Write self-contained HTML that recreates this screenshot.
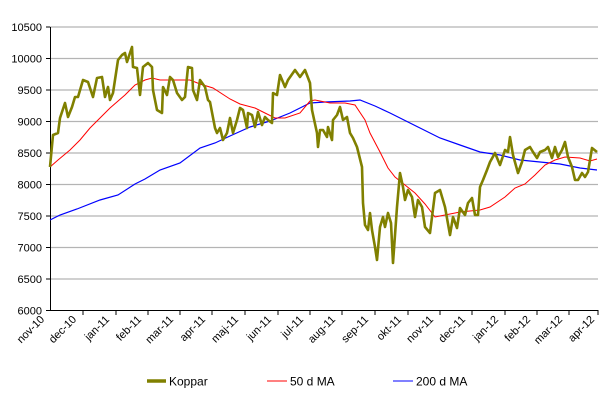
<!DOCTYPE html>
<html><head><meta charset="utf-8"><style>
body{margin:0;background:#fff;}
svg{display:block;font-family:"Liberation Sans",Arial,sans-serif;}
</style></head><body>
<svg width="608" height="409" viewBox="0 0 608 409">
<g stroke="#b4b4b4" stroke-width="1.2">
<line x1="50" y1="27" x2="598" y2="27"/><line x1="50" y1="58.5" x2="598" y2="58.5"/>
<line x1="50" y1="90" x2="598" y2="90"/><line x1="50" y1="121.5" x2="598" y2="121.5"/>
<line x1="50" y1="153" x2="598" y2="153"/><line x1="50" y1="184.5" x2="598" y2="184.5"/>
<line x1="50" y1="216" x2="598" y2="216"/><line x1="50" y1="247.5" x2="598" y2="247.5"/>
<line x1="50" y1="279" x2="598" y2="279"/>
</g>
<g font-size="11" fill="#000" text-anchor="end">
<text x="42" y="31">10500</text><text x="42" y="62.5">10000</text><text x="42" y="94">9500</text>
<text x="42" y="125.5">9000</text><text x="42" y="157">8500</text><text x="42" y="188.5">8000</text>
<text x="42" y="220">7500</text><text x="42" y="251.5">7000</text><text x="42" y="283">6500</text>
<text x="42" y="314.5">6000</text>
</g>
<g stroke="#000" stroke-width="1">
<line x1="50.5" y1="27" x2="50.5" y2="311"/><line x1="46" y1="310.5" x2="598" y2="310.5"/>
<line x1="46" y1="27" x2="50" y2="27"/><line x1="46" y1="58.5" x2="50" y2="58.5"/><line x1="46" y1="90" x2="50" y2="90"/><line x1="46" y1="121.5" x2="50" y2="121.5"/><line x1="46" y1="153" x2="50" y2="153"/><line x1="46" y1="184.5" x2="50" y2="184.5"/><line x1="46" y1="216" x2="50" y2="216"/><line x1="46" y1="247.5" x2="50" y2="247.5"/><line x1="46" y1="279" x2="50" y2="279"/>
<line x1="83" y1="310" x2="83" y2="315"/><line x1="116" y1="310" x2="116" y2="315"/><line x1="148" y1="310" x2="148" y2="315"/><line x1="180" y1="310" x2="180" y2="315"/><line x1="212" y1="310" x2="212" y2="315"/><line x1="245" y1="310" x2="245" y2="315"/><line x1="278" y1="310" x2="278" y2="315"/><line x1="310" y1="310" x2="310" y2="315"/><line x1="342" y1="310" x2="342" y2="315"/><line x1="375" y1="310" x2="375" y2="315"/><line x1="408" y1="310" x2="408" y2="315"/><line x1="440" y1="310" x2="440" y2="315"/><line x1="472" y1="310" x2="472" y2="315"/><line x1="505" y1="310" x2="505" y2="315"/><line x1="537" y1="310" x2="537" y2="315"/><line x1="569" y1="310" x2="569" y2="315"/><line x1="598" y1="310" x2="598" y2="315"/>
</g>
<g font-size="11" fill="#000" text-anchor="end">
<text transform="translate(45,320) rotate(-45)">nov-10</text>
<text transform="translate(77,320) rotate(-45)">dec-10</text>
<text transform="translate(110,320) rotate(-45)">jan-11</text>
<text transform="translate(142,320) rotate(-45)">feb-11</text>
<text transform="translate(174,320) rotate(-45)">mar-11</text>
<text transform="translate(206,320) rotate(-45)">apr-11</text>
<text transform="translate(239,320) rotate(-45)">maj-11</text>
<text transform="translate(272,320) rotate(-45)">jun-11</text>
<text transform="translate(304,320) rotate(-45)">jul-11</text>
<text transform="translate(336,320) rotate(-45)">aug-11</text>
<text transform="translate(369,320) rotate(-45)">sep-11</text>
<text transform="translate(402,320) rotate(-45)">okt-11</text>
<text transform="translate(434,320) rotate(-45)">nov-11</text>
<text transform="translate(466,320) rotate(-45)">dec-11</text>
<text transform="translate(499,320) rotate(-45)">jan-12</text>
<text transform="translate(531,320) rotate(-45)">feb-12</text>
<text transform="translate(563,320) rotate(-45)">mar-12</text>
<text transform="translate(595,320) rotate(-45)">apr-12</text>
</g>
<polyline fill="none" stroke="#0000ff" stroke-width="1.2" points="50,220 60,215 77,209 100,200 118,195 135,184 145,179 160,170 180,163 200,148 215,143 230,136 250,127 270,121 290,113 300,108 310,103 325,102 350,101 360,100 375,106 390,113 400,118 420,128 440,138 460,145 480,152 500,155 520,160 540,162 560,164 580,168 597,170"/>
<polyline fill="none" stroke="#ff0000" stroke-width="1" points="50,167 58,160 70,150 80,140 90,128 100,118 110,108 125,95 135,85 145,80 152,78 160,80 170,80 190,80 200,84 213,88 230,99 240,104 255,108 265,113 275,118 285,118 300,113 310,101 315,100 330,103 345,103 355,105 365,120 370,133 380,152 388,168 395,177 405,185 415,193 425,204 435,217 445,215 460,212 480,210 490,207 505,197 515,188 525,184 535,175 545,165 555,160 565,157 580,158 590,161 597,159"/>
<polyline fill="none" stroke="#808000" stroke-width="2.6" stroke-linejoin="round" points="50,167 53,135 58,133 60,118 65,103 68,117 72,107 75,97 78,97 83,80 88,82 93,97 97,78 102,77 105,97 108,87 110,100 113,93 118,60 122,55 125,53 127,62 132,47 133,67 137,68 140,95 143,67 148,63 152,67 153,90 157,110 162,113 163,87 167,95 170,77 173,80 177,93 182,100 185,97 188,67 192,68 193,90 197,100 200,80 205,87 208,100 210,102 215,128 217,133 220,128 223,140 227,133 230,118 233,133 237,120 240,108 243,110 247,128 248,113 252,115 255,127 258,112 262,125 265,117 268,120 272,123 273,93 277,95 280,75 285,87 288,80 295,70 300,77 305,70 310,83 312,110 317,133 318,147 320,130 323,130 327,137 328,127 332,140 333,120 337,115 340,107 343,120 347,117 350,133 353,138 357,147 362,167 363,203 365,225 368,230 370,213 372,230 375,247 377,260 380,227 383,217 385,227 388,213 391,223 393,263 397,207 400,173 403,187 405,200 408,190 412,197 415,217 418,200 422,207 425,227 430,233 435,193 440,190 445,207 450,235 453,217 457,228 460,208 465,215 468,203 472,198 475,215 478,215 480,187 483,180 487,170 490,162 495,153 500,165 505,150 508,152 510,137 513,155 518,173 522,162 525,150 530,147 533,152 537,158 540,152 545,150 548,147 552,158 555,147 558,157 562,150 565,142 568,157 572,167 575,180 578,180 582,173 585,177 588,172 590,160 592,148 597,152"/>
<line x1="147" y1="381" x2="166" y2="381" stroke="#808000" stroke-width="3.5"/>
<line x1="267" y1="381" x2="287" y2="381" stroke="#ff0000" stroke-width="1"/>
<line x1="393" y1="381" x2="413" y2="381" stroke="#0000ff" stroke-width="1"/>
<g font-size="12" fill="#000">
<text x="169" y="385.5">Koppar</text><text x="290" y="385.5">50 d MA</text><text x="416" y="385.5">200 d MA</text>
</g>
</svg>
</body></html>
